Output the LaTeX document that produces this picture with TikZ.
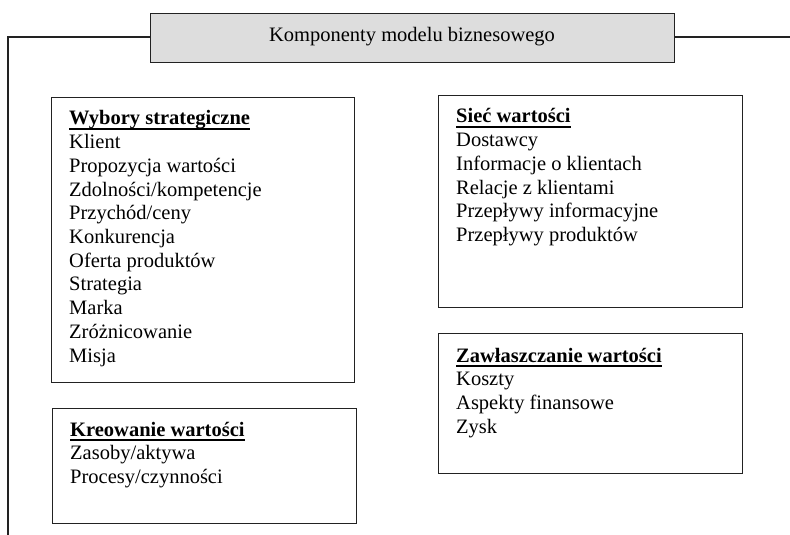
\documentclass[tikz,border=0pt]{standalone}
\usepackage{fontspec}
\setmainfont{Liberation Serif}
\definecolor{linegray}{HTML}{222222}
\definecolor{titlefill}{HTML}{DDDDDD}
\tikzset{
  frame/.style={draw=linegray, line width=1.4bp, fill=white, inner sep=0pt, anchor=north west},
  titlebox/.style={draw=linegray, line width=1.4bp, fill=titlefill, inner sep=0pt,
    minimum width=524bp, minimum height=49bp, anchor=north west},
  conn/.style={draw=linegray, line width=1.4bp},
  boxtext/.style={anchor=base west, inner sep=0pt},
  txt/.style={font=\fontsize{20.5bp}{23.7bp}\selectfont}
}
\newcommand{\boxlines}[1]{\vtop{\fontsize{20.5bp}{23.7bp}\selectfont\halign{##\hfil\cr #1}}}
\newsavebox{\hdbox}
\newcommand{\hd}[1]{\sbox{\hdbox}{\textbf{#1}}\rlap{\usebox{\hdbox}}\rule[-4.6bp]{\wd\hdbox}{1.8bp}}
\begin{document}
\begin{tikzpicture}[x=1bp,y=-1bp]
\useasboundingbox (0,0) rectangle (790,535);
% title
\node[titlebox] (title) at (150,13) {};
\node[txt, anchor=base] (titletext) at (412,42) {Komponenty modelu biznesowego};
\coordinate (lc) at (8,37);
\coordinate (lb) at (8,535);
\coordinate (rb) at (790,37);
\draw[conn] (title.west |- lc) -- (lc) -- (lb);
\draw[conn] (title.east |- rb) -- (rb);
% boxes
\node[frame, minimum width=303bp, minimum height=285bp] (wybory) at (51,97) {};
\node[frame, minimum width=304bp, minimum height=115bp] (kreowanie) at (52,408) {};
\node[frame, minimum width=304bp, minimum height=212bp] (siec) at (438,95) {};
\node[frame, minimum width=304bp, minimum height=140bp] (zawl) at (438,333) {};
% texts
\node[boxtext] (wyboryt) at (69,125) {\boxlines{\hd{Wybory strategiczne}\cr Klient\cr Propozycja wartości\cr Zdolności/kompetencje\cr Przychód/ceny\cr Konkurencja\cr Oferta produktów\cr Strategia\cr Marka\cr Zróżnicowanie\cr Misja\cr}};
\node[boxtext] (kreowaniet) at (70,436) {\boxlines{\hd{Kreowanie wartości}\cr Zasoby/aktywa\cr Procesy/czynności\cr}};
\node[boxtext] (siect) at (456,123) {\boxlines{\hd{Sieć wartości}\cr Dostawcy\cr Informacje o klientach\cr Relacje z klientami\cr Przepływy informacyjne\cr Przepływy produktów\cr}};
\node[boxtext] (zawlt) at (456,362) {\boxlines{\hd{Zawłaszczanie wartości}\cr Koszty\cr Aspekty finansowe\cr Zysk\cr}};
\end{tikzpicture}
\end{document}
